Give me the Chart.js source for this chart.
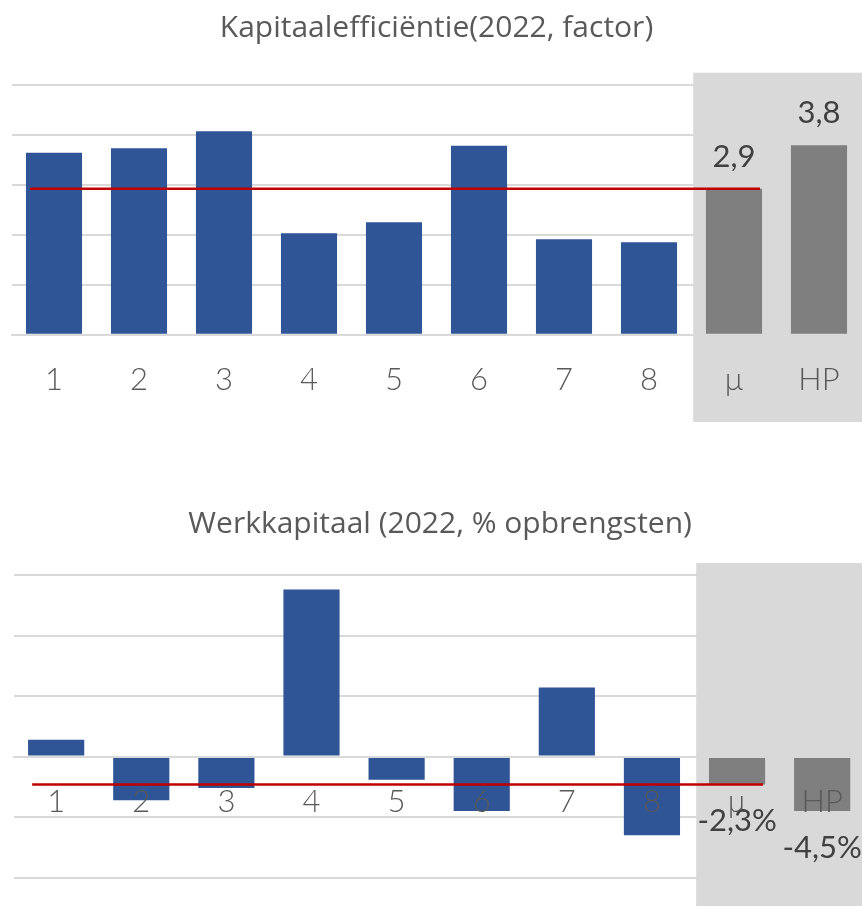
<!DOCTYPE html>
<html>
<head>
<meta charset="utf-8">
<script src="https://cdn.jsdelivr.net/npm/chart.js@4.4.1/dist/chart.umd.min.js"></script>
<style>
  html, body { margin: 0; padding: 0; background: #fff; }
  #pagina { position: relative; width: 862px; height: 906px; overflow: hidden; }
  #boven { position: absolute; left: 0; top: 0; width: 862px; height: 422px; }
  #onder { position: absolute; left: 0; top: 480px; width: 870px; height: 426px; }
</style>
</head>
<body>
<div id="pagina">
  <div id="boven"><canvas id="grafiek1"></canvas></div>
  <div id="onder"><canvas id="grafiek2"></canvas></div>
</div>
<script>
const categorieen = ['1', '2', '3', '4', '5', '6', '7', '8', 'µ', 'HP'];
const kapitaalefficientie = [3.64, 3.73, 4.07, 2.03, 2.25, 3.78, 1.91, 1.85, 2.92, 3.79];
const werkkapitaal = [1.4, -3.6, -2.6, 13.8, -1.9, -4.5, 5.7, -6.5, -2.3, -4.5];
const kapitaalGrid = [0, 1, 2, 3, 4, 5];
const werkGrid = [-10, -5, 0, 5, 10, 15];

const BLAUW = '#2f5597';
const GRIJS = '#7f7f7f';
const FONT = 'Lato, "Open Sans", sans-serif';
const TITELFONT = '"Open Sans", sans-serif';

// grijs vlak achter µ en HP
const achtergrondVlak = {
  id: 'achtergrondVlak',
  beforeDatasetsDraw(chart) {
    const { ctx, chartArea, scales: { x } } = chart;
    const links = x.getPixelForValue(7.52);
    const boven = chartArea.top - 12;
    ctx.save();
    ctx.fillStyle = '#d9d9d9';
    ctx.fillRect(links, boven, chart.width - links, chart.height - boven);
    ctx.restore();
  }
};

// rode lijn op het gemiddelde (µ)
const gemiddeldeLijn = {
  id: 'gemiddeldeLijn',
  afterDatasetsDraw(chart) {
    const { ctx, scales: { x, y } } = chart;
    const waarde = chart.data.datasets[0].data[8];
    const py = y.getPixelForValue(waarde);
    ctx.save();
    ctx.strokeStyle = '#c00000';
    ctx.lineWidth = 2.5;
    ctx.beginPath();
    ctx.moveTo(x.getPixelForValue(0) - 24, py);
    ctx.lineTo(x.getPixelForValue(8) + 26, py);
    ctx.stroke();
    ctx.restore();
  }
};

// waardelabels alleen bij µ en HP
const waardeLabels = {
  id: 'waardeLabels',
  afterDraw(chart, args, opts) {
    const { ctx } = chart;
    const meta = chart.getDatasetMeta(0);
    const data = chart.data.datasets[0].data;
    ctx.save();
    ctx.font = '31px ' + FONT;
    ctx.fillStyle = '#404040';
    ctx.textAlign = 'center';
    ctx.textBaseline = 'middle';
    [8, 9].forEach(i => {
      const bar = meta.data[i];
      const v = data[i];
      const tekst = v.toFixed(1).replace('.', ',') + opts.suffix;
      const py = v >= 0 ? bar.y - 32 : bar.y + 37;
      ctx.fillText(tekst, bar.x, py);
    });
    ctx.restore();
  }
};

function maakConfig(titel, waarden, grid, suffix, titelPad, xAs, padding) {
  return {
    type: 'bar',
    data: {
      labels: categorieen,
      datasets: [{
        data: waarden,
        backgroundColor: categorieen.map((c, i) => i < 8 ? BLAUW : GRIJS),
        borderWidth: 0,
        barPercentage: 0.66,
        categoryPercentage: 1
      }]
    },
    options: {
      responsive: true,
      maintainAspectRatio: false,
      animation: false,
      layout: { padding: padding },
      plugins: {
        legend: { display: false },
        tooltip: { enabled: false },
        title: {
          display: true,
          text: titel,
          color: '#595959',
          font: { family: TITELFONT, size: 30, weight: 'normal' },
          padding: titelPad
        },
        waardeLabels: { suffix: suffix }
      },
      scales: {
        x: Object.assign({
          type: 'category',
          grid: { display: false, drawTicks: false },
          border: { display: true, color: '#d9d9d9', width: 2, z: 1 },
          ticks: {
            z: 1,
            color: '#595959',
            font: { family: FONT, size: 31, weight: 300 },
            padding: 27,
            autoSkip: false,
            maxRotation: 0
          }
        }, xAs),
        y: {
          min: grid[0],
          max: grid[grid.length - 1],
          grid: { color: '#d9d9d9', lineWidth: 2, drawTicks: false },
          border: { display: false },
          ticks: { display: false, stepSize: grid[1] - grid[0] },
          afterFit: s => { s.width = 0; }
        }
      }
    },
    plugins: [achtergrondVlak, gemiddeldeLijn, waardeLabels]
  };
}

new Chart(document.getElementById('grafiek1'), maakConfig(
  'Kapitaalefficiëntie(2022, factor)',
  kapitaalefficientie, kapitaalGrid, '',
  { top: 10, bottom: 38.7 },
  {
    position: 'bottom',
    afterFit: s => { s.height = 87.3; s.paddingLeft = 0; s.paddingRight = 0; }
  },
  { left: 11.5, right: 0.5, top: 0, bottom: 0 }
));

new Chart(document.getElementById('grafiek2'), maakConfig(
  'Werkkapitaal (2022, % opbrengsten)',
  werkkapitaal, werkGrid, '%',
  { top: 26, bottom: 33 },
  { position: { y: 0 } },
  { left: 13.6, right: 3.3, top: 0, bottom: 28.3 }
));
</script>
</body>
</html>
